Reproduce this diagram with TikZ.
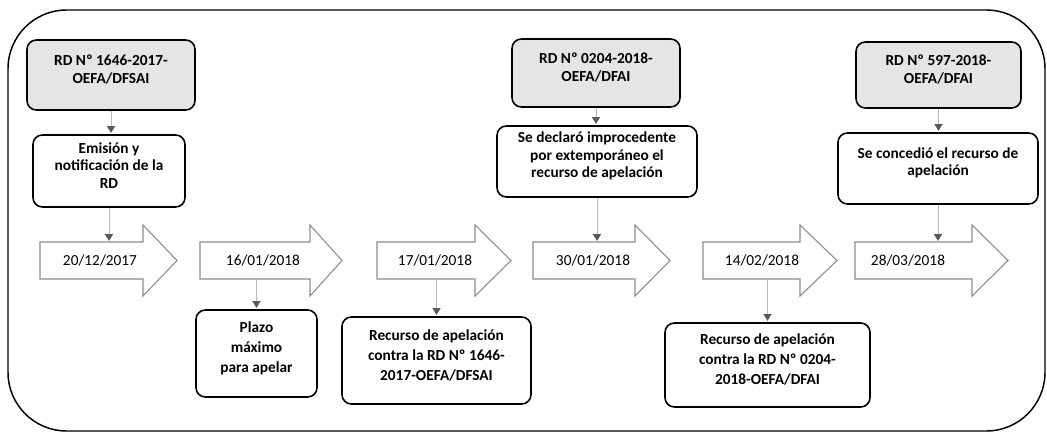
\documentclass[tikz,border=0pt]{standalone}
\usepackage{fontspec}
\setmainfont{Carlito}
\usetikzlibrary{arrows.meta,fit,calc}
\newcommand\dateoutline[3]{\draw[dateline] (#1,242) -- (#2,242) -- (#2,225) -- (#3,260.5) -- (#2,296) -- (#2,279) -- (#1,279) -- cycle;}
\begin{document}
\begin{tikzpicture}[x=0.75pt,y=-0.75pt,
  box/.style={draw=black, line width=1.2pt, rounded corners=7pt, inner sep=0pt, align=center, font=\bfseries\fontsize{11.5}{13}\selectfont},
  graybox/.style={box, fill=black!10},
  lowbox/.style={box, font=\bfseries\fontsize{11.5}{15}\selectfont},
  datetext/.style={inner sep=0pt, minimum height=27pt, font=\fontsize{11.5}{13}\selectfont},
  dateline/.style={draw=black!45, line width=0.8pt, line join=miter},
  conn/.style={draw=black!28, line width=0.6pt, -{Triangle[width=6pt,length=5pt,color=black!65]}, shorten >=1pt}
]
\useasboundingbox (0,0) rectangle (1047,435);
\draw[line width=1.1pt, rounded corners=44pt] (8,10) rectangle (1045,431);

% top boxes
\node[graybox, fit={(27,40) (195,110)}] (b1) {RD Nº 1646-2017-\\OEFA/DFSAI};
\node[box, fit={(33,135) (185,207)}] (e1) {Emisión y\\notificación de la\\RD};
\node[graybox, fit={(512,39) (680,107)}] (b2) {RD Nº 0204-2018-\\OEFA/DFAI};
\node[box, fit={(497,126) (697,197)}] (s1) {Se declaró improcedente\\por extemporáneo el\\recurso de apelación};
\node[graybox, fit={(856,42) (1021,108)}] (b3) {RD Nº 597-2018-\\OEFA/DFAI};
\node[box, fit={(838,133) (1038,204)}] (s2) {Se concedió el recurso de\\apelación\\[8pt]};

% date arrows
\dateoutline{40}{143}{177}
\node[datetext] (d1) at (100,260.5) {20/12/2017};
\dateoutline{200}{310}{342}
\node[datetext] (d2) at (263,260.5) {16/01/2018};
\dateoutline{377}{475}{511}
\node[datetext] (d3) at (435,260.5) {17/01/2018};
\dateoutline{533}{635}{670}
\node[datetext] (d4) at (593,260.5) {30/01/2018};
\dateoutline{703}{800}{837}
\node[datetext] (d5) at (762,260.5) {14/02/2018};
\dateoutline{855}{972}{1008}
\node[datetext] (d6) at (908,260.5) {28/03/2018};

% bottom boxes
\node[lowbox, fit={(196,310) (317,397)}] (p1) {Plazo\\máximo\\para apelar};
\node[lowbox, fit={(342,317) (531,404)}] (r1) {Recurso de apelación\\contra la RD Nº 1646-\\2017-OEFA/DFSAI};
\node[lowbox, fit={(665,323) (870,407)}] (r2) {Recurso de apelación\\contra la RD Nº 0204-\\2018-OEFA/DFAI};

% connectors
\draw[conn] (b1.south) -- (b1.south |- e1.north);
\draw[conn] (e1.south) -- (e1.south |- d1.north);
\draw[conn] (d2.south -| p1.north) -- (p1.north);
\draw[conn] (d3.south -| r1.north) -- (r1.north);
\draw[conn] (b2.south) -- (b2.south |- s1.north);
\draw[conn] (s1.south) -- (s1.south |- d4.north);
\draw[conn] (d5.south -| r2.north) -- (r2.north);
\draw[conn] (b3.south) -- (b3.south |- s2.north);
\draw[conn] (s2.south) -- (s2.south |- d6.north);
\end{tikzpicture}
\end{document}
